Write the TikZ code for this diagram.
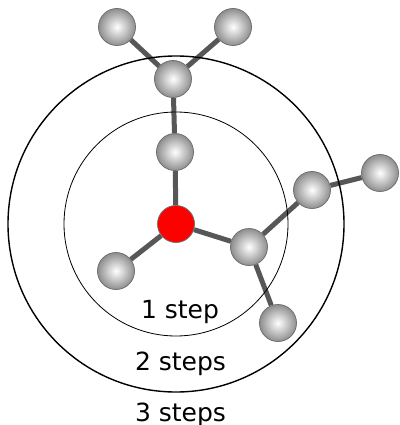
\documentclass[tikz,border=0pt]{standalone}
\usepackage{fontspec}
\setmainfont{DejaVu Sans}
\usetikzlibrary{backgrounds}

\definecolor{bondgray}{HTML}{575757}
\definecolor{ballgray}{HTML}{8E8E8E}
\definecolor{rimgray}{HTML}{707070}

\tikzset{
  atom/.style={circle,draw=rimgray,line width=0.8pt,inner sep=0pt,minimum size=37pt,
    inner color=white,outer color=ballgray},
  rootatom/.style={circle,draw=rimgray,line width=0.8pt,inner sep=0pt,minimum size=37pt,fill=red},
  bond/.style={draw=bondgray,line width=5pt},
  ring/.style={draw=black},
  steptext/.style={anchor=base,font=\fontsize{25}{30}\selectfont}
}

\begin{document}
\begin{tikzpicture}[x=1pt,y=-1pt]
\useasboundingbox (0,0) rectangle (399,425);

% Atoms
\node[rootatom] (r0) at (176,224) {};
\node[atom] (a1) at (175,152) {};
\node[atom] (a2) at (173,79) {};
\node[atom] (a3) at (117,27) {};
\node[atom] (a4) at (233,27) {};
\node[atom] (b1) at (116,271) {};
\node[atom] (c1) at (249,247) {};
\node[atom] (c2) at (312,190) {};
\node[atom] (c3) at (380,173) {};
\node[atom] (c4) at (278,323) {};

\begin{scope}[on background layer]
% Bonds
\draw[bond] (r0) -- (a1) -- (a2) -- (a3);
\draw[bond] (a2) -- (a4);
\draw[bond] (r0) -- (b1);
\draw[bond] (r0) -- (c1) -- (c2) -- (c3);
\draw[bond] (c1) -- (c4);

% Distance rings
\draw[ring,line width=0.8pt] (r0.center) circle (112);
\draw[ring,line width=1.4pt] (r0.center) circle (168);
\end{scope}

% Labels
\node[steptext] (s1) at (180,318) {1 step};
\node[steptext] (s2) at (180.5,370) {2 steps};
\node[steptext] (s3) at (180.5,421) {3 steps};
\end{tikzpicture}
\end{document}
